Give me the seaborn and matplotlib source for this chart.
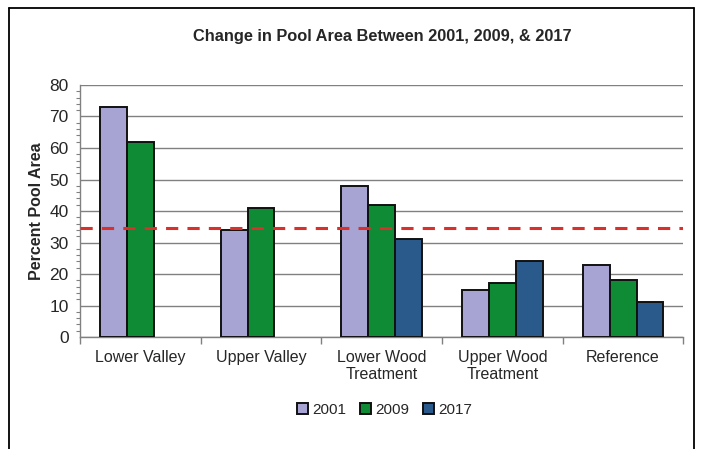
import numpy as np
import pandas as pd
import matplotlib
matplotlib.use("Agg")
import matplotlib.pyplot as plt
from matplotlib.lines import Line2D
from matplotlib.ticker import MultipleLocator, FixedLocator
import seaborn as sns

# data
sites = ["Lower Valley", "Upper Valley", "Lower Wood\nTreatment",
         "Upper Wood\nTreatment", "Reference"]
years = ["2001", "2009", "2017"]
pool_2001 = [73, 34, 48, 15, 23]
pool_2009 = [62, 41, 42, 17, 18]
pool_2017 = [np.nan, np.nan, 31, 24.2, 11]
target_line = 34.5

colors = ["#A7A3D2", "#0F8A35", "#2A5A8C"]

df = pd.DataFrame({
    "site": sites * 3,
    "year": [y for y in years for _ in sites],
    "pct": pool_2001 + pool_2009 + pool_2017,
})

sns.set_style("white")
plt.rcParams["font.family"] = ["Liberation Sans", "DejaVu Sans"]

fig = plt.figure(figsize=(7.04, 4.49), dpi=100)
ax = fig.add_axes([0.1136, 0.2494, 0.8571, 0.5613])

sns.barplot(data=df, x="site", y="pct", hue="year", order=sites, hue_order=years,
            palette=colors, width=0.67, edgecolor="#111111", linewidth=1.4,
            saturation=1, errorbar=None, ax=ax, zorder=3)

ax.axhline(target_line, color="#D9302C", linestyle=(0, (4, 3)), linewidth=2.2, zorder=4)

ax.set_ylim(0, 80)
ax.set_xlim(-0.5, 4.5)
ax.yaxis.set_major_locator(MultipleLocator(10))
ax.yaxis.set_minor_locator(MultipleLocator(2))
ax.grid(axis="y", color="#808080", linewidth=1.0, zorder=0)
ax.set_axisbelow(True)
for s in ["top", "right"]:
    ax.spines[s].set_visible(False)
for s in ["left", "bottom"]:
    ax.spines[s].set_color("#808080")
    ax.spines[s].set_linewidth(1.0)

ax.tick_params(axis="y", which="major", direction="out", length=5, width=1,
               color="#808080", labelsize=12.5, pad=3)
ax.tick_params(axis="y", which="minor", direction="out", length=3, width=0.8,
               color="#808080", left=True)
ax.xaxis.set_minor_locator(FixedLocator(np.arange(-0.5, 5, 1)))
ax.tick_params(axis="x", which="major", length=0, labelsize=11.5, pad=9)
ax.tick_params(axis="x", which="minor", direction="out", length=5, width=1,
               color="#808080", bottom=True)

ax.set_xlabel("")
ax.set_ylabel("Percent Pool Area", fontsize=11.5, fontweight="bold", labelpad=4)

fig.text(0.543, 0.918, "Change in Pool Area Between 2001, 2009, & 2017",
         ha="center", va="center", fontsize=11.8, fontweight="bold")

handles, labels = ax.get_legend_handles_labels()
leg = ax.legend(handles, labels, loc="center", bbox_to_anchor=(0.505, -0.29),
                ncol=3, frameon=False, fontsize=11, handlelength=0.7,
                handleheight=0.7, handletextpad=0.3, columnspacing=0.9)

# outer chart border (bottom edge sits below the image)
for xs, ys in [([0.0128, 0.0128], [-0.1, 0.982]),
               ([0.0128, 0.986], [0.982, 0.982]),
               ([0.986, 0.986], [0.982, -0.1])]:
    fig.add_artist(Line2D(xs, ys, color="black", linewidth=1.3, transform=fig.transFigure))

fig.savefig("out.png", dpi=100)
